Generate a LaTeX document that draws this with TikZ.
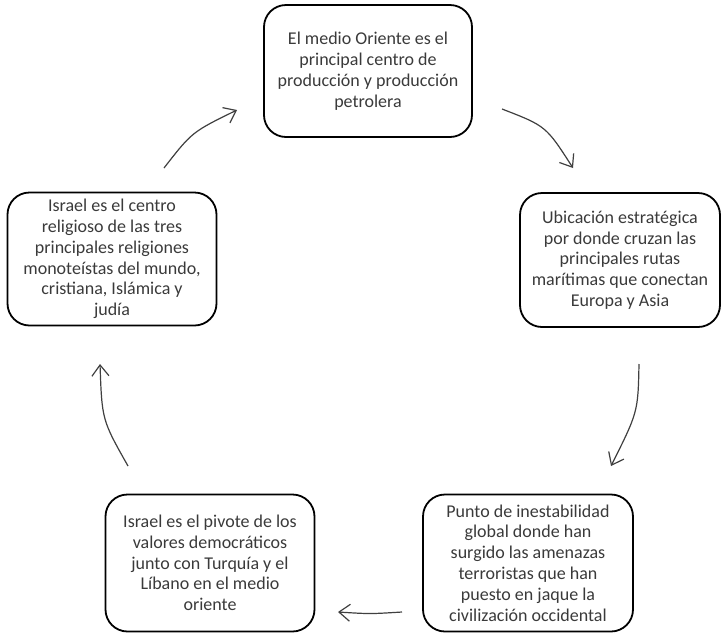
\documentclass[tikz,border=0pt]{standalone}
\usepackage{fontspec}
\setmainfont{Carlito}
\usetikzlibrary{arrows.meta}
\definecolor{txt}{HTML}{3A3A3A}
\definecolor{arr}{HTML}{404040}
\tikzset{
  box/.style={draw=black, line width=1.8pt, rounded corners=22pt, align=center,
    text=txt, font=\fontsize{18}{20.8}\selectfont, inner sep=2pt},
  cyc/.style={draw=arr, line width=1.2pt, -{Straight Barb[length=11pt,width=17pt,line width=1.2pt]}}
}
\begin{document}
\begin{tikzpicture}[x=1pt,y=-1pt]
\useasboundingbox (0,0) rectangle (724,633);
\node[box, minimum width=208pt, minimum height=132pt] (top) at (368,71)
  {El medio Oriente es el\\principal centro de\\producción y producción\\petrolera};
\node[box, minimum width=200pt, minimum height=134pt] (right) at (620,260)
  {Ubicación estratégica\\por donde cruzan las\\principales rutas\\marítimas que conectan\\Europa y Asia};
\node[box, minimum width=210pt, minimum height=137pt] (br) at (528,563)
  {Punto de inestabilidad\\global donde han\\surgido las amenazas\\terroristas que han\\puesto en jaque la\\civilización occidental};
\node[box, minimum width=209pt, minimum height=137pt] (bl) at (210,563)
  {Israel es el pivote de los\\valores democráticos\\junto con Turquía y el\\Líbano en el medio\\oriente};
\node[box, minimum width=209pt, minimum height=133pt] (left) at (112,259)
  {Israel es el centro\\religioso de las tres\\principales religiones\\monoteístas del mundo,\\cristiana, Islámica y\\judía};
\coordinate (a1s) at (164,168); \coordinate (a1e) at (237,110);
\coordinate (a2s) at (502,109); \coordinate (a2e) at (573,168);
\coordinate (a3s) at (639,364); \coordinate (a3e) at (611,466);
\coordinate (a4s) at (402,612); \coordinate (a4e) at (338,612);
\coordinate (a5s) at (128,466); \coordinate (a5e) at (100,364);
\draw[cyc] (a1s) .. controls (192,132) .. (a1e);
\draw[cyc] (a2s) .. controls (546,126) .. (a2e);
\draw[cyc] (a3s) .. controls (638,412) .. (a3e);
\draw[cyc] (a4s) .. controls (370,614) .. (a4e);
\draw[cyc] (a5s) .. controls (102,420) .. (a5e);
\end{tikzpicture}
\end{document}
